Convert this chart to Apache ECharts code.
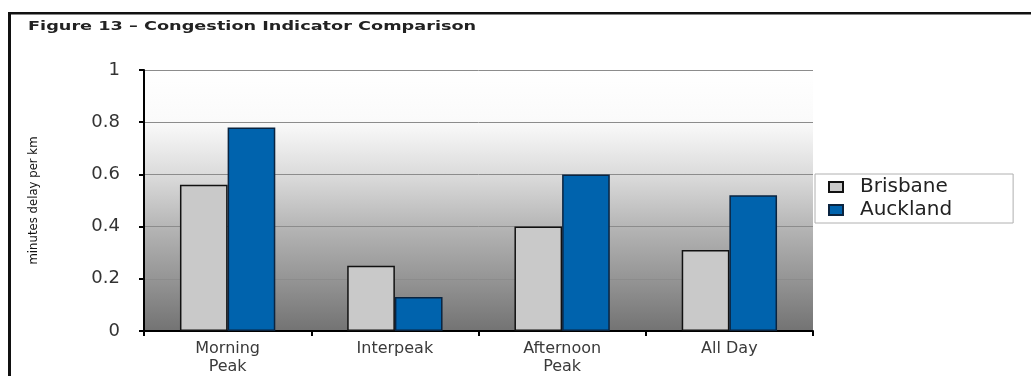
<!DOCTYPE html>
<html>
<head>
<meta charset="utf-8">
<script src="https://cdn.jsdelivr.net/npm/echarts@6/dist/echarts.min.js"></script>
<style>
  html, body { margin: 0; padding: 0; background: #fff; }
  #chart { width: 1031px; height: 376px; }
</style>
</head>
<body>
<div id="chart"></div>
<script>
  'use strict'

  /* data */
  var categories = ['Morning\nPeak', 'Interpeak', 'Afternoon\nPeak', 'All Day'];
  var brisbane = [0.56, 0.25, 0.40, 0.31];
  var auckland = [0.78, 0.13, 0.60, 0.52];
  var seriesNames = ['Brisbane', 'Auckland'];

  var chart = echarts.init(document.getElementById('chart'));

  var plotBg = new echarts.graphic.LinearGradient(0, 0, 0, 1, [
    { offset: 0, color: '#ffffff' },
    { offset: 0.2, color: '#fafafa' },
    { offset: 0.42, color: '#d8d8d8' },
    { offset: 0.62, color: '#b2b2b2' },
    { offset: 0.8, color: '#959595' },
    { offset: 1, color: '#737373' }
  ]);

  var option = {
    animation: false,
    textStyle: { fontFamily: 'DejaVu Sans' },
    graphic: [
      /* frame */
      { type: 'rect', shape: { x: 8, y: 12, width: 3, height: 370 }, style: { fill: '#111' } },
      { type: 'rect', shape: { x: 8, y: 12, width: 1030, height: 2.5 }, style: { fill: '#111' } },
      /* figure caption */
      {
        type: 'text', x: 28, y: 20, scaleX: 1.36,
        style: {
          text: 'Figure 13 \u2013 Congestion Indicator Comparison',
          fontFamily: 'DejaVu Sans', fontWeight: 'bold', fontSize: 13, fill: '#222'
        }
      }
    ],
    grid: {
      left: 144,
      right: 218,
      top: 70,
      bottom: 45,
      show: true,
      backgroundColor: plotBg,
      borderWidth: 0
    },
    legend: {
      data: seriesNames,
      orient: 'vertical',
      left: 815,
      top: 174,
      padding: [3, 61, 3, 13],
      icon: 'rect',
      itemWidth: 14,
      itemHeight: 10,
      itemGap: 3,
      backgroundColor: '#fff',
      borderColor: '#b0b0b0',
      borderWidth: 1,
      textStyle: {
        fontFamily: 'DejaVu Sans',
        fontSize: 20,
        lineHeight: 20,
        color: '#222',
        padding: [0, 0, 0, 12]
      }
    },
    xAxis: {
      type: 'category',
      data: categories,
      axisLine: { lineStyle: { color: '#000', width: 2 } },
      axisTick: { show: true, length: 5, lineStyle: { color: '#000', width: 2 } },
      axisLabel: {
        margin: 9,
        fontSize: 16,
        lineHeight: 18,
        color: '#3a3a3a',
        fontFamily: 'DejaVu Sans'
      }
    },
    yAxis: {
      type: 'value',
      min: 0,
      max: 1,
      interval: 0.2,
      name: 'minutes delay per km',
      nameLocation: 'middle',
      nameRotate: 90,
      nameGap: 104,
      nameTextStyle: { fontFamily: 'DejaVu Sans Condensed', fontSize: 13, color: '#111' },
      axisLine: { show: true, lineStyle: { color: '#000', width: 2 } },
      axisTick: { show: true, length: 5, lineStyle: { color: '#000', width: 2 } },
      axisLabel: {
        margin: 24,
        fontSize: 18,
        color: '#333',
        fontFamily: 'DejaVu Sans'
      },
      splitLine: { show: true, lineStyle: { color: '#8c8c8c', width: 1 } }
    },
    series: [
      {
        name: seriesNames[0],
        type: 'bar',
        data: brisbane,
        barGap: '0%',
        barCategoryGap: '43%',
        itemStyle: { color: '#c9c9c9', borderColor: '#111', borderWidth: 1.5 }
      },
      {
        name: seriesNames[1],
        type: 'bar',
        data: auckland,
        barGap: '0%',
        barCategoryGap: '43%',
        itemStyle: { color: '#0063ad', borderColor: '#0a2440', borderWidth: 1.5 }
      }
    ]
  };

  chart.setOption(option);
</script>
</body>
</html>
